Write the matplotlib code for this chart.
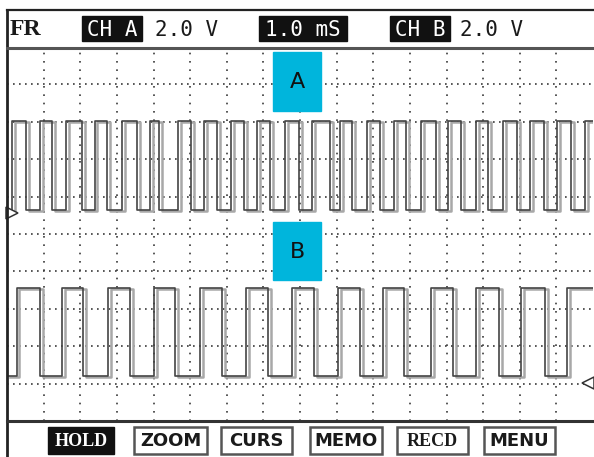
import numpy as np
import matplotlib
matplotlib.use("Agg")
from matplotlib import pyplot as plt
from matplotlib.patches import Rectangle

# scope settings shown on screen
header_left = "FR"
ch_a_label, ch_a_scale = "CH A", "2.0 V"
timebase = "1.0 mS"
ch_b_label, ch_b_scale = "CH B", "2.0 V"
buttons = ["HOLD", "ZOOM", "CURS", "MEMO", "RECD", "MENU"]

volts_per_div = 2.0
n_xdiv, n_ydiv = 16, 10

# channel A: edge times (ms), levels in volts
a_rise = [0.14, 0.90, 1.61, 2.40, 3.14, 3.91, 4.67, 5.38, 6.12, 6.83, 7.60,
          8.33, 9.10, 9.84, 10.57, 11.31, 12.05, 12.81, 13.55, 14.29, 15.03, 15.79]
a_fall = [0.52, 1.23, 2.05, 2.73, 3.55, 4.15, 5.03, 5.74, 6.48, 7.19, 7.98,
          8.83, 9.43, 10.19, 10.90, 11.72, 12.40, 13.14, 13.93, 14.67, 15.41]
a_high, a_low = 4.9, 0.15
a_ground = 5.56   # divisions from bottom

# channel B
b_rise = [0.27, 1.50, 2.76, 4.02, 5.27, 6.53, 7.79, 9.04, 10.27, 11.58, 12.81, 14.04, 15.30]
b_fall = [0.90, 2.08, 3.36, 4.59, 5.87, 7.13, 8.39, 9.64, 10.85, 12.19, 13.44, 14.70]
b_high, b_low = 5.05, 0.35
b_ground = 1.02


def steps(rises, falls, high, low, ground):
    edges = sorted(rises + falls)
    t = [0.0] + edges + [float(n_xdiv)]
    lev = [low]
    for e in edges:
        lev.append(high if e in rises else low)
    lev.append(lev[-1])
    v = ground + np.array(lev) / volts_per_div
    return np.array(t), v


W, H = 594, 457
fig = plt.figure(figsize=(W / 100, H / 100), dpi=100)
fig.patch.set_facecolor("white")

# screen area in pixels
x0, x1 = 7, 593
y_top, y_bot = 47, 421
ax = fig.add_axes([x0 / W, (H - y_bot) / H, (x1 - x0) / W, (y_bot - y_top) / H])
ax.set_xlim(0, n_xdiv)
ax.set_ylim(0, n_ydiv)
ax.axis("off")

grid_c = "#3a3a3a"
for i in range(1, n_xdiv):
    ax.axvline(i, color=grid_c, lw=1.2, ls=(0, (1, 4)), zorder=1)
for j in range(1, n_ydiv):
    ax.axhline(j, color=grid_c, lw=1.2, ls=(0, (1, 2.6)), zorder=1)

for rises, falls, hi, lo, gnd in [(a_rise, a_fall, a_high, a_low, a_ground),
                                  (b_rise, b_fall, b_high, b_low, b_ground)]:
    t, v = steps(rises, falls, hi, lo, gnd)
    ax.step(t + 0.07, v - 0.02, where="post", color="#a8a8a8", lw=1.8, zorder=2)
    ax.step(t, v, where="post", color="#444444", lw=1.2, zorder=3)

# ground markers
ax.plot(0.13, a_ground, marker=">", ms=9, mfc="white", mec="#333333", mew=1.1,
        zorder=4, clip_on=False)
ax.plot(15.85, b_ground, marker="<", ms=9, mfc="white", mec="#333333", mew=1.1,
        zorder=4, clip_on=False)

# overlay in pixel coordinates for frame, header, labels and buttons
ov = fig.add_axes([0, 0, 1, 1])
ov.set_xlim(0, W)
ov.set_ylim(H, 0)
ov.axis("off")
ov.patch.set_alpha(0)

ov.plot([7, 7], [10, H], color="#222222", lw=2)
ov.plot([7, W], [10, 10], color="#222222", lw=1.6)
ov.plot([7, W], [47.5, 47.5], color="#555555", lw=2.2)
ov.plot([7, W], [421, 421], color="#333333", lw=2.2)

mono = "DejaVu Sans Mono"
ov.text(10, 29.5, header_left, family="Liberation Serif", weight="bold", fontsize=17,
        va="center", ha="left", color="#1a1a1a")
for (bx0, bx1), lab in [((82, 142), ch_a_label), ((259, 347), timebase), ((390, 450), ch_b_label)]:
    ov.add_patch(Rectangle((bx0, 16), bx1 - bx0, 25, color="#111111"))
    ov.text((bx0 + bx1) / 2, 29.5, lab, family=mono, fontsize=15, color="white",
            ha="center", va="center")
ov.text(155, 29.5, ch_a_scale, family=mono, fontsize=15, color="#1a1a1a", va="center")
ov.text(460, 29.5, ch_b_scale, family=mono, fontsize=15, color="#1a1a1a", va="center")

# channel labels
cyan = "#00b5dc"
for lab, by0, by1 in [("A", 52, 111), ("B", 222, 280)]:
    ov.add_patch(Rectangle((273, by0), 48, by1 - by0, color=cyan, zorder=5))
    ov.text(297, (by0 + by1) / 2 + 1, lab, fontsize=16, color="#111111",
            ha="center", va="center", zorder=6)

# soft keys
btn_x = [(48, 114), (134, 207), (221, 292), (310, 382), (397, 468), (484, 555)]
for (bx0, bx1), lab in zip(btn_x, buttons):
    if lab == "HOLD":
        ov.add_patch(Rectangle((bx0, 427), bx1 - bx0, 27, color="#111111"))
        tc = "white"
    else:
        ov.add_patch(Rectangle((bx0, 427), bx1 - bx0, 27, fc="white", ec="#555555", lw=1.8))
        tc = "#1a1a1a"
    fam = "Liberation Serif" if lab in ("HOLD", "RECD") else "DejaVu Sans"
    ov.text((bx0 + bx1) / 2, 441, lab, family=fam, weight="bold", fontsize=13,
            color=tc, ha="center", va="center")

fig.savefig("out.png", dpi=100, facecolor="white")
